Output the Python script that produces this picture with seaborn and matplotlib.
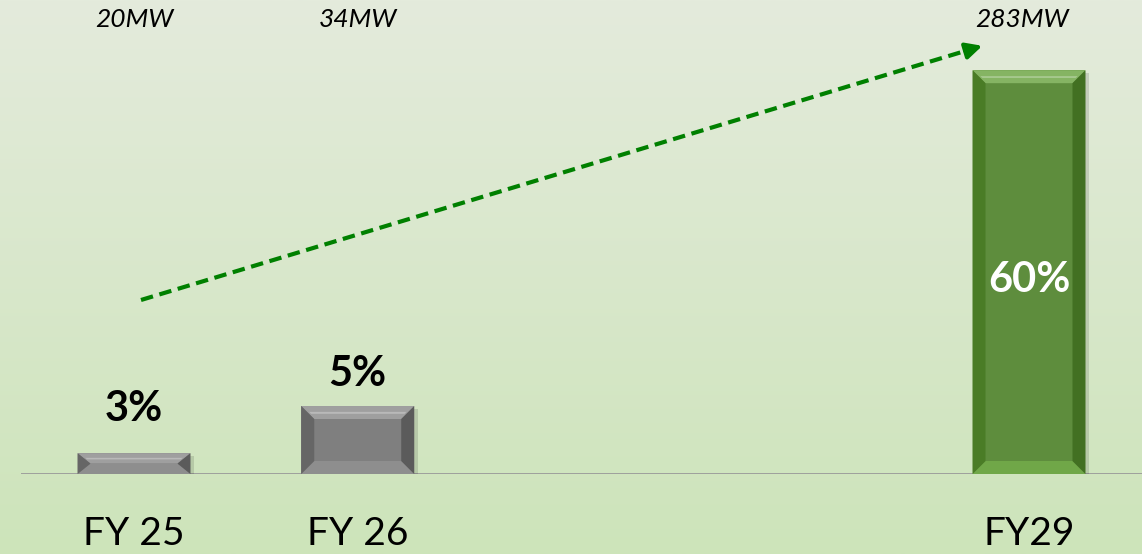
import numpy as np
import pandas as pd
import matplotlib
matplotlib.use("Agg")
import matplotlib.pyplot as plt
from matplotlib.patches import Polygon
import seaborn as sns

# ---- data ----
categories = ["FY 25", "FY 26", "FY 27", "FY 28", "FY29"]
tick_labels = ["FY 25", "FY 26", "", "", "FY29"]
bar_categories = ["FY 25", "FY 26", "FY29"]
bar_heights = [3.1, 10.1, 60.0]          # visual bar heights
pct_labels = ["3%", "5%", "60%"]
mw_labels = ["20MW", "34MW", "283MW"]
bar_colors = ["#7f7f7f", "#7f7f7f", "#5c9b2f"]

sns.set_theme(style="white")
plt.rcParams['font.family'] = ['Lato', 'DejaVu Sans']

W, H = 1142, 554
fig = plt.figure(figsize=(W / 100, H / 100), dpi=100)

# background gradient
bg = fig.add_axes([0, 0, 1, 1], zorder=0)
grad = np.linspace(0, 1, 256).reshape(-1, 1)
top = np.array([228, 235, 220]) / 255
bot = np.array([205, 228, 186]) / 255
img = top[None, None, :] * (1 - grad[:, :, None]) + bot[None, None, :] * grad[:, :, None]
bg.imshow(img, aspect="auto", extent=[0, 1, 0, 1])
bg.set_axis_off()

base_px = 80
ax = fig.add_axes([0, base_px / H, 1, 1 - base_px / H], zorder=1)
ax.patch.set_alpha(0)

df = pd.DataFrame({"cat": bar_categories, "val": bar_heights})
sns.barplot(data=df, x="cat", y="val", order=categories, hue="cat",
            palette=dict(zip(bar_categories, bar_colors)), width=0.505,
            legend=False, ax=ax, zorder=3, linewidth=0)

px_per_cat = 223.75
px_per_unit = 6.73
ax.set_xlim(-134 / px_per_cat, (W - 134) / px_per_cat)
ax.set_ylim(0, (H - base_px) / px_per_unit)
for s in ax.spines.values():
    s.set_visible(False)
ax.set_ylabel("")
ax.set_xlabel("")
ax.set_yticks([])
ax.set_xticks(range(len(categories)))
ax.set_xticklabels(tick_labels, fontsize=28, color="black")
ax.tick_params(axis="x", length=0, pad=30)

# baseline
ax.plot([(21 - 134) / px_per_cat, ax.get_xlim()[1]], [0, 0], color="#9a9a9a",
        lw=1.3, zorder=2, solid_capstyle="butt")

# bevel decoration derived from bar geometry
def shade(c, f):
    c = np.array(matplotlib.colors.to_rgb(c))
    if f >= 0:
        return tuple(c + (1 - c) * f)
    return tuple(c * (1 + f))

bars = [p for p in ax.patches if p.get_height() > 0]
bars.sort(key=lambda p: p.get_x())
bdx = 13 / px_per_cat
for p, col in zip(bars, bar_colors):
    x0, y0, w, h = p.get_x(), p.get_y(), p.get_width(), p.get_height()
    bdy = min(13 / px_per_unit, h / 2)
    x1, y1 = x0 + w, y0 + h
    # shadow
    ax.add_patch(Polygon([(x0 + 2 / px_per_cat, y0 - 3 / px_per_unit),
                          (x1 + 4 / px_per_cat, y0 - 3 / px_per_unit),
                          (x1 + 4 / px_per_cat, y1 - 3 / px_per_unit),
                          (x0 + 2 / px_per_cat, y1 - 3 / px_per_unit)],
                         closed=True, fc=(0, 0, 0, 0.12), ec="none", zorder=2.5))
    ax.add_patch(Polygon([(x0, y1), (x1, y1), (x1 - bdx, y1 - bdy), (x0 + bdx, y1 - bdy)],
                         closed=True, fc=shade(col, 0.25), ec="none", zorder=4))
    ax.add_patch(Polygon([(x0 + bdx * 0.6, y1 - bdy * 0.45), (x1 - bdx * 0.6, y1 - bdy * 0.45),
                          (x1 - bdx * 0.75, y1 - bdy * 0.6), (x0 + bdx * 0.75, y1 - bdy * 0.6)],
                         closed=True, fc=shade(col, 0.45), ec="none", zorder=4.1))
    ax.add_patch(Polygon([(x0, y0), (x1, y0), (x1 - bdx, y0 + bdy), (x0 + bdx, y0 + bdy)],
                         closed=True, fc=shade(col, 0.12), ec="none", zorder=4))
    ax.add_patch(Polygon([(x0, y0), (x0 + bdx, y0 + bdy), (x0 + bdx, y1 - bdy), (x0, y1)],
                         closed=True, fc=shade(col, -0.2), ec="none", zorder=4))
    ax.add_patch(Polygon([(x1, y0), (x1 - bdx, y0 + bdy), (x1 - bdx, y1 - bdy), (x1, y1)],
                         closed=True, fc=shade(col, -0.28), ec="none", zorder=4))

# percentage labels
offsets = [25, 13]
for i, (p, lab) in enumerate(zip(bars, pct_labels)):
    cx = p.get_x() + p.get_width() / 2
    if i < 2:
        ax.annotate(lab, (cx, p.get_height()), xytext=(0, offsets[i] * 0.72),
                    textcoords="offset points", ha="center", va="bottom",
                    fontsize=30, fontweight="bold", color="black", zorder=6)
    else:
        ax.text(cx, p.get_height() / 2 - 1.2, lab, ha="center", va="center",
                fontsize=30, fontweight="bold", color="white", zorder=6)

# MW labels at top
ymw = (H - base_px - 20) / px_per_unit
for p, lab in zip(bars, mw_labels):
    cx = p.get_x() + p.get_width() / 2
    ax.text(cx - (0.03 if lab.startswith("283") else 0), ymw, lab, ha="center",
            va="center", fontsize=19, fontstyle="italic", color="black", zorder=6)

# trend arrow
x_s, y_s = (141 - 134) / px_per_cat, (474 - 300) / px_per_unit
x_e, y_e = (985 - 134) / px_per_cat, (474 - 45) / px_per_unit
ax.plot([x_s, x_e - 0.06], [y_s, y_e - 0.06 * (y_e - y_s) / (x_e - x_s) * 1.0],
        color="#008000", lw=3, ls=(0, (3, 1.6)), zorder=5)
ax.annotate("", xy=(x_e, y_e), xytext=(x_e - 0.1, y_e - 0.1 * (y_e - y_s) / (x_e - x_s)),
            arrowprops=dict(arrowstyle="-|>,head_length=0.8,head_width=0.4",
                            color="#008000", lw=3), zorder=5)

fig.savefig("out.png", dpi=100)
